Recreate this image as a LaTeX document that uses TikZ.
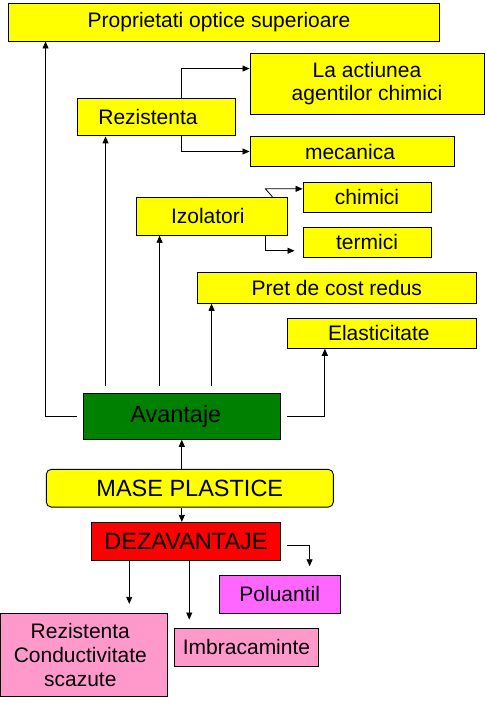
\documentclass[tikz,border=0pt]{standalone}
\usepackage{fontspec}
\setmainfont{Liberation Sans}
\usetikzlibrary{arrows.meta}
\definecolor{cyel}{RGB}{255,255,0}
\definecolor{cgreen}{RGB}{0,128,0}
\definecolor{cred}{RGB}{255,0,0}
\definecolor{cmag}{RGB}{255,102,255}
\definecolor{cpink}{RGB}{255,153,204}
\begin{document}
\begin{tikzpicture}[x=1pt,y=-1pt,
  box/.style={draw=black,line width=0.9pt,rectangle,inner sep=0pt,align=center,
    font=\fontsize{21}{23.5}\selectfont},
  ybox/.style={box,fill=cyel},
  bigbox/.style={box,font=\fontsize{23.5}{26}\selectfont},
  arr/.style={draw=black,line width=0.8pt,-{Triangle[length=7pt,width=6pt]}},
  ln/.style={draw=black,line width=0.8pt}]
\useasboundingbox (0,0) rectangle (485,703);

\node[ybox,minimum width=431pt,minimum height=38pt] (prop) at (223.5,22) {\hspace*{-9pt}Proprietati optice superioare};
\node[ybox,minimum width=234pt,minimum height=61pt] (act) at (367,83.5) {La actiunea\\agentilor chimici};
\node[ybox,minimum width=158pt,minimum height=37.3pt] (rez) at (156,117.3) {\hspace*{-16pt}Rezistenta};
\node[ybox,minimum width=204pt,minimum height=30.4pt] (mec) at (352,151.5) {\hspace*{-4pt}mecanica};
\node[ybox,minimum width=151pt,minimum height=38pt] (izo) at (211.8,216.3) {\hspace*{-8pt}Izolatori};
\node[ybox,minimum width=128pt,minimum height=30pt] (chim) at (367,197.3) {chimici};
\node[ybox,minimum width=128pt,minimum height=30pt] (term) at (367,242.3) {termici};
\node[ybox,minimum width=279pt,minimum height=31pt] (pret) at (336.8,287.8) {Pret de cost redus};
\node[ybox,minimum width=189pt,minimum height=30pt] (elas) at (381.8,333.3) {\hspace*{-6pt}Elasticitate};
\node[bigbox,fill=cgreen,minimum width=197.7pt,minimum height=46pt] (avan) at (181.8,416.3) {\hspace*{-12pt}Avantaje};
\node[bigbox,fill=cyel,rounded corners=5pt,minimum width=287pt,minimum height=37.7pt] (mase) at (189.8,488.2) {MASE PLASTICE};
\node[bigbox,fill=cred,minimum width=189.4pt,minimum height=37.7pt] (dez) at (186,541.2) {DEZAVANTAJE};
\node[box,fill=cmag,minimum width=121.3pt,minimum height=38pt] (pol) at (279.7,594.3) {Poluantil};
\node[box,fill=cpink,minimum width=167pt,minimum height=83pt,font=\fontsize{21}{24}\selectfont] (rcs) at (83.8,654.8) {\hspace*{-7pt}Rezistenta\\\hspace*{-7pt}Conductivitate\\\hspace*{-7pt}scazute};
\node[box,fill=cpink,minimum width=144.4pt,minimum height=38pt] (imb) at (246.5,647.3) {Imbracaminte};

% Avantaje connectors
\draw[arr] ([xshift=-6pt]avan.west) -| ([xshift=38pt]prop.south west);
\draw[arr] ([xshift=23pt,yshift=7pt]avan.north west) -- ([xshift=29pt]rez.south west);
\draw[arr] ([xshift=77pt,yshift=7pt]avan.north west) -- ([xshift=23.7pt]izo.south west);
\draw[arr] ([xshift=129pt,yshift=7pt]avan.north west) -- ([xshift=14.7pt]pret.south west);
\draw[arr] ([xshift=6pt]avan.east) -| ([xshift=38pt]elas.south west);

% Rezistenta branches
\draw[arr] ([xshift=105pt]rez.north west) |- ([yshift=-16pt]act.north west);
\draw[arr] ([xshift=105pt]rez.south west) |- (mec.west);

% Izolatori branches
\draw[arr] ([xshift=-15.3pt]izo.north east) -- ++(-7pt,8pt) -- ([yshift=-7pt]chim.north west);
\draw[arr] ([xshift=-22pt]izo.south east) |- ([xshift=-8pt,yshift=7pt]term.south west);

% Mase plastice
\draw[arr] (mase.north -| avan.south) -- (avan.south);
\draw[arr] (mase.south -| avan.south) -- (avan.south |- dez.north);

% Dezavantaje
\draw[arr] ([xshift=6pt,yshift=-4pt]dez.east) -| ([xshift=91pt,yshift=8.6pt]pol.north west);
\draw[arr] ([xshift=38.4pt]dez.south west) -- ([xshift=129.4pt,yshift=9pt]rcs.north west);
\draw[arr] ([xshift=98.4pt]dez.south west) -- ([xshift=15.4pt,yshift=8.3pt]imb.north west);
\end{tikzpicture}
\end{document}
